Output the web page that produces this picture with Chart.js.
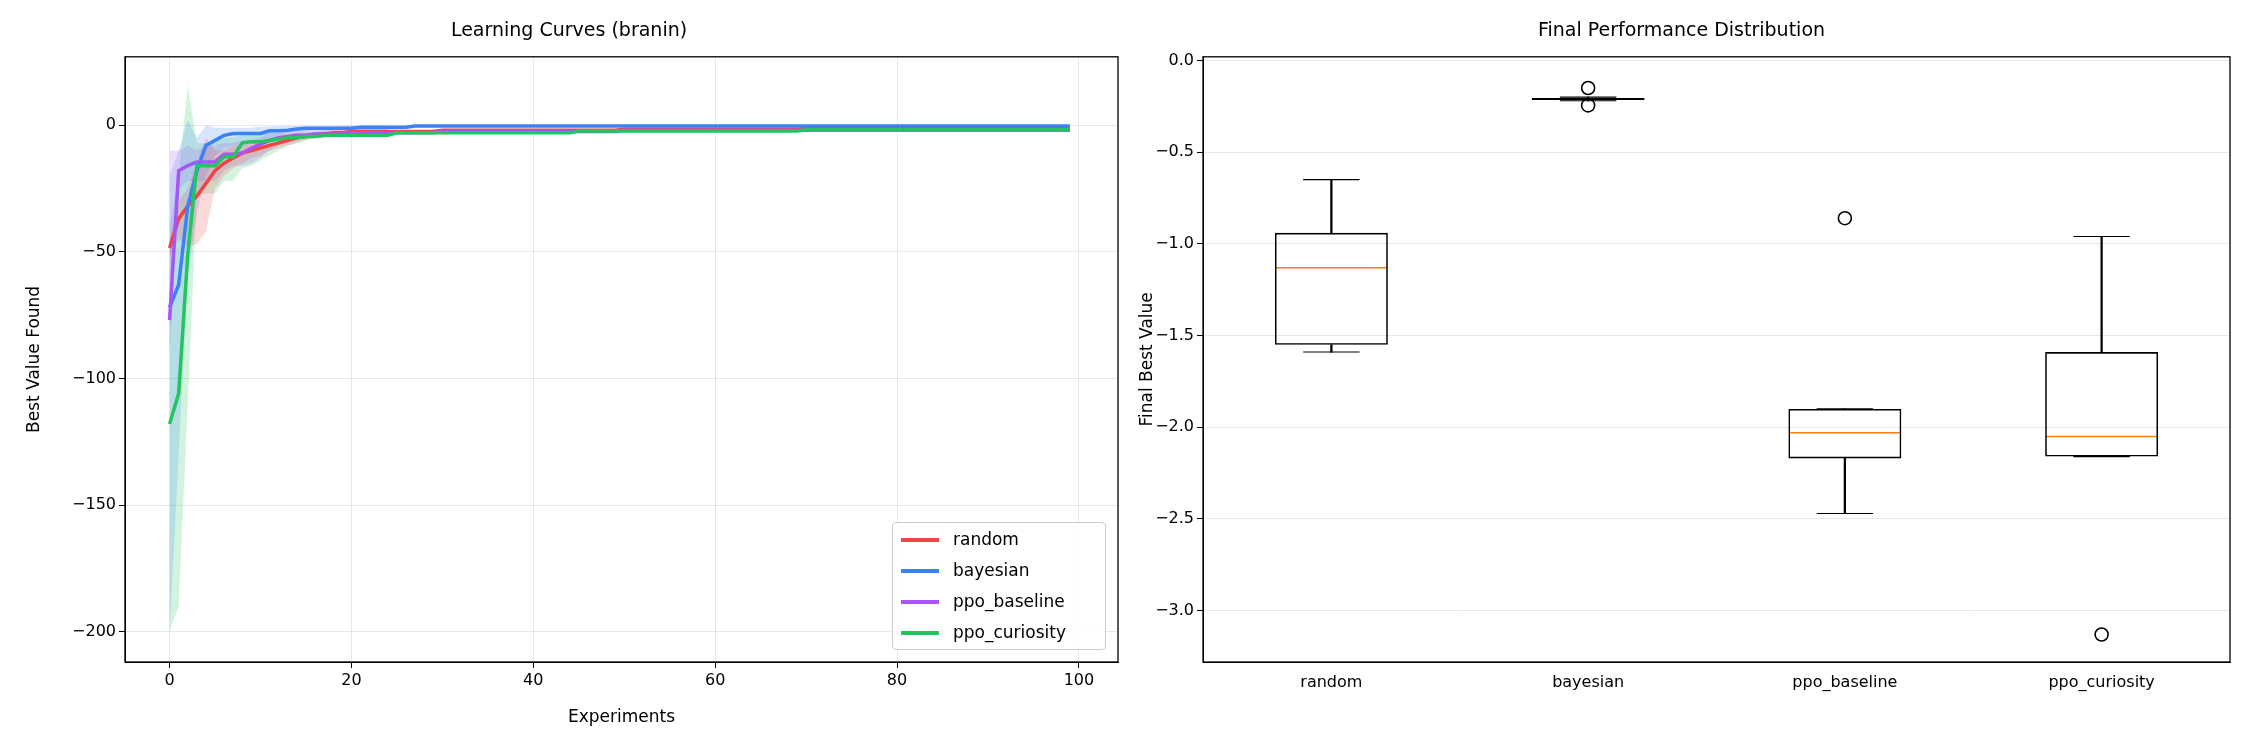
<!DOCTYPE html>
<html>
<head>
<meta charset="utf-8">
<script src="https://cdn.jsdelivr.net/npm/chart.js@4.4.0/dist/chart.umd.min.js"></script>
<style>
  body { margin: 0; background: #fff; width: 2250px; height: 750px; overflow: hidden; font-family: "DejaVu Sans", sans-serif; }
  .box { position: absolute; top: 0; height: 750px; }
  #legend { position: absolute; left: 892px; top: 522px; width: 212px; height: 126px; border: 1px solid #ccc; border-radius: 4px; background: rgba(255,255,255,0.85); font-size: 17px; color: #000; }
  #legend div { height: 29px; line-height: 29px; margin-left: 8px; margin-top: 2px; }
  #legend span { display: inline-block; width: 38px; height: 4px; vertical-align: middle; margin-right: 14px; }
</style>
</head>
<body>
<div class="box" style="left:0;width:1125px"><canvas id="curves"></canvas></div>
<div class="box" style="left:1125px;width:1125px"><canvas id="boxes"></canvas></div>
<div id="legend"></div>
<script>
// best-so-far curves as runs of [value, count] (step functions)
const randomRuns = [[-48.5,1],[-37,1],[-32,1],[-28,1],[-23,1],[-18,1],[-15,1],[-13,1],[-11,1],[-10,1],[-9,1],[-8,1],[-7,1],[-6,1],[-5,1],[-4.5,1],[-4,1],[-3.5,1],[-3,2],[-2.5,10],[-2,20],[-1.6,20],[-1.3,30]];
const bayesianRuns = [[-72,1],[-63,1],[-32,1],[-18,1],[-8,1],[-6,1],[-4,1],[-3.3,4],[-2.2,2],[-2,1],[-1.5,1],[-1.2,6],[-0.8,6],[-0.3,73]];
const baselineRuns = [[-77,1],[-18,1],[-16,1],[-14.5,3],[-11.5,2],[-11,1],[-9,1],[-7.5,1],[-6,1],[-5,1],[-4.5,1],[-4,2],[-3.5,4],[-3,10],[-2.5,20],[-2,50]];
const curiosityRuns = [[-118,1],[-106,1],[-51,1],[-16,3],[-12.5,2],[-7,1],[-6.5,2],[-6,1],[-5.5,1],[-5,2],[-4.5,2],[-4,8],[-3,20],[-2.3,25],[-1.8,30]];

// shaded spread over the first 25 experiments
const randomLo = [-52,-45,-48,-47,-42,-25,-20,-17,-15,-13,-12,-10,-9,-8,-7,-6,-5,-5,-4,-4,-3.5,-3,-3,-3,-3];
const randomHi = [-45,-30,-25,-15,-5,-10,-10,-8,-8,-7,-6,-5,-4,-3.5,-3,-3,-2.5,-2,-2,-2,-1.5,-1.5,-1.5,-1.5,-1.5];
const bayesianLo = [-200,-130,-60,-35,-20,-12,-9,-8,-8,-7,-6,-5,-4,-3,-3,-2.5,-2,-2,-2,-1.5,-1.5,-1.2,-1,-1,-1];
const bayesianHi = [-20,-10,2,-5,0,-1,-1,-1,-1,-1,-0.5,-0.5,-0.3,-0.3,-0.3,-0.2,-0.2,-0.2,-0.2,-0.2,-0.1,-0.1,-0.1,-0.1,-0.1];
const baselineLo = [-90,-25,-22,-22,-22,-22,-18,-16,-16,-15,-13,-10,-8,-7,-6,-5,-5,-4,-4,-4,-3.5,-3.5,-3.5,-3.5,-3.5];
const baselineHi = [-10,-10,-8,-10,-8,-8,-7,-7,-6,-6,-5,-3,-2.5,-2,-2,-2,-1.5,-1.5,-1.5,-1.5,-1.5,-1.5,-1.5,-1.5,-1.5];
const curiosityLo = [-200,-190,-110,-27,-27,-27,-22,-22,-17,-16,-14,-12,-10,-8,-7,-6,-5,-5,-4,-4,-4,-4,-3.5,-3.5,-3.5];
const curiosityHi = [-40,-20,16,-7,-7,-6,-5,-5,-4,-4,-3.5,-3,-3,-3,-3,-2.5,-2.5,-2.5,-2.5,-2.5,-2,-2,-2,-2,-2];

// final performance boxes
const methods = ['random', 'bayesian', 'ppo_baseline', 'ppo_curiosity'];
const whiskerLow = [-1.59, -0.22, -2.47, -2.16];
const q1 = [-1.55, -0.215, -2.17, -2.16];
const medians = [-1.13, -0.21, -2.03, -2.05];
const q3 = [-0.94, -0.205, -1.90, -1.59];
const whiskerHigh = [-0.65, -0.20, -1.90, -0.96];
const outliers = [{ x: 'bayesian', y: -0.15 }, { x: 'bayesian', y: -0.245 }, { x: 'ppo_baseline', y: -0.86 }, { x: 'ppo_curiosity', y: -3.13 }];

const colors = { random: '#ef4444', bayesian: '#3b82f6', ppo_baseline: '#a855f7', ppo_curiosity: '#22c55e' };
const fontFamily = '"DejaVu Sans", sans-serif';
Chart.defaults.font.family = fontFamily;
Chart.defaults.color = '#000';
Chart.defaults.animation = false;

function expand(runs) {
    const out = [];
    runs.forEach(([v, n]) => { for (let i = 0; i < n; i++) out.push(v); });
    return out;
}
const minus = v => String(v).replace('-', '\u2212');

// outline the full plot area like matplotlib axes
const frame = {
    id: 'frame',
    afterDraw(chart) {
        const a = chart.chartArea, ctx = chart.ctx;
        ctx.save();
        ctx.strokeStyle = '#000';
        ctx.lineWidth = 1.3;
        ctx.strokeRect(a.left, a.top, a.right - a.left, a.bottom - a.top);
        ctx.restore();
    }
};

const curveSets = [
    ['random', randomRuns, randomLo, randomHi, 4],
    ['bayesian', bayesianRuns, bayesianLo, bayesianHi, 3],
    ['ppo_baseline', baselineRuns, baselineLo, baselineHi, 2],
    ['ppo_curiosity', curiosityRuns, curiosityLo, curiosityHi, 1]
];
const curveData = [];
curveSets.forEach(([name, runs, lo, hi, order]) => {
    curveData.push({ label: name, data: expand(runs).map((y, x) => ({ x, y })), borderColor: colors[name], borderWidth: 3.5, pointRadius: 0, fill: false, order });
});
curveSets.forEach(([name, runs, lo, hi]) => {
    curveData.push({ label: name + '_lo', data: lo.map((y, x) => ({ x, y })), borderWidth: 0, pointRadius: 0, fill: false, order: 10 });
    curveData.push({ label: name + '_hi', data: hi.map((y, x) => ({ x, y })), borderWidth: 0, pointRadius: 0, fill: '-1', backgroundColor: colors[name] + '33', order: 10 });
});

new Chart(document.getElementById('curves'), {
    type: 'line',
    data: { datasets: curveData },
    options: {
        responsive: true, maintainAspectRatio: false,
        layout: { padding: { right: 7, left: 20, bottom: 18 } },
        plugins: {
            legend: { display: false },
            title: { display: true, text: 'Learning Curves (branin)', font: { size: 19, weight: 'normal' }, padding: { top: 20, bottom: 14 } }
        },
        scales: {
            x: {
                type: 'linear', min: -4.9, max: 104.3,
                afterFit: s => { s.height = 70; },
                afterBuildTicks: s => { s.ticks = [0, 20, 40, 60, 80, 100].map(value => ({ value })); },
                ticks: { font: { size: 16 } },
                grid: { color: 'rgba(0,0,0,0.09)', tickColor: '#000', tickLength: 6 },
                border: { color: '#000' },
                title: { display: true, text: 'Experiments', font: { size: 17 } }
            },
            y: {
                min: -212, max: 27,
                afterFit: s => { s.width = 105; },
                afterBuildTicks: s => { s.ticks = [-200, -150, -100, -50, 0].map(value => ({ value })); },
                ticks: { font: { size: 16 }, callback: minus },
                grid: { color: 'rgba(0,0,0,0.09)', tickColor: '#000', tickLength: 6 },
                border: { color: '#000' },
                title: { display: true, text: 'Best Value Found', font: { size: 17 } }
            }
        }
    },
    plugins: [frame]
});

document.getElementById('legend').innerHTML = methods.map(m => `<div><span style="background:${colors[m]}"></span>${m}</div>`).join('');

const barBase = { type: 'bar', grouped: false, categoryPercentage: 1 };
new Chart(document.getElementById('boxes'), {
    data: {
        labels: methods,
        datasets: [
            { ...barBase, data: methods.map((m, i) => [whiskerLow[i], q1[i]]), backgroundColor: '#000', barThickness: 1.6 },
            { ...barBase, data: methods.map((m, i) => [q3[i], whiskerHigh[i]]), backgroundColor: '#000', barThickness: 1.6 },
            { ...barBase, data: whiskerLow.map(v => [v - 0.003, v + 0.003]), backgroundColor: '#000', barPercentage: 0.22 },
            { ...barBase, data: whiskerHigh.map(v => [v - 0.003, v + 0.003]), backgroundColor: '#000', barPercentage: 0.22 },
            { ...barBase, data: methods.map((m, i) => [q1[i], q3[i]]), backgroundColor: 'rgba(255,255,255,0)', borderColor: '#000', borderWidth: 1.6, borderSkipped: false, barPercentage: 0.44 },
            { ...barBase, data: medians.map(v => [v - 0.004, v + 0.004]), backgroundColor: '#ff7f0e', barPercentage: 0.43 },
            { type: 'line', data: outliers, showLine: false, pointRadius: 6.5, pointBorderWidth: 1.6, pointBorderColor: '#000', pointBackgroundColor: '#fff' }
        ]
    },
    options: {
        responsive: true, maintainAspectRatio: false,
        layout: { padding: { right: 20, left: 8 } },
        plugins: {
            legend: { display: false }, tooltip: { enabled: false },
            title: { display: true, text: 'Final Performance Distribution', font: { size: 19, weight: 'normal' }, padding: { top: 20, bottom: 14 } }
        },
        scales: {
            x: {
                type: 'category', offset: true,
                afterFit: s => { s.height = 88; },
                ticks: { font: { size: 16 } },
                grid: { display: false, tickColor: '#000' },
                border: { color: '#000' }
            },
            y: {
                min: -3.28, max: 0.02,
                afterFit: s => { s.width = 70; },
                afterBuildTicks: s => { s.ticks = [-3, -2.5, -2, -1.5, -1, -0.5, 0].map(value => ({ value })); },
                ticks: { font: { size: 16 }, callback: v => minus(v.toFixed(1)) },
                grid: { color: 'rgba(0,0,0,0.09)', tickColor: '#000', tickLength: 6 },
                border: { color: '#000' },
                title: { display: true, text: 'Final Best Value', font: { size: 17 } }
            }
        }
    },
    plugins: [frame]
});
</script>
</body>
</html>
